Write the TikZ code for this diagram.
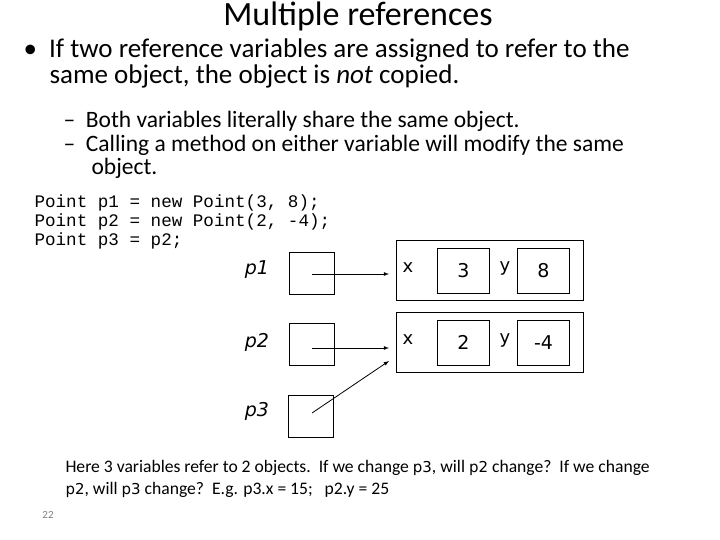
\documentclass[tikz,border=0pt]{standalone}
\usepackage{fontspec}
\setmainfont{Carlito}
\setmonofont{Liberation Mono}
\newfontfamily\vfont{DejaVu Sans}
\usetikzlibrary{positioning}
\tikzset{
  refbox/.style={draw,thick,minimum width=45pt,minimum height=42pt,inner sep=0pt},
  objbox/.style={draw,minimum width=187pt,minimum height=60pt,inner sep=0pt},
  fieldbox/.style={draw,thick,minimum width=52pt,minimum height=45pt,inner sep=0pt,font=\vfont\fontsize{19}{19}\selectfont},
  varlabel/.style={font=\vfont\itshape\fontsize{19}{19}\selectfont},
  fieldlabel/.style={font=\vfont\fontsize{18}{18}\selectfont},
  refarrow/.style={-latex,thick}
}
\begin{document}
\begin{tikzpicture}[x=1pt,y=-1pt]
  \useasboundingbox (0,0) rectangle (720,540);
  % title and bullets
  \node (title) at (358,16) {\fontsize{34}{34}\selectfont Multiple references};
  \node[anchor=west] (b1) at (20,50) {\fontsize{27}{27}\selectfont\textbullet\ \ If two reference variables are assigned to refer to the};
  \node[anchor=west] (b1b) at (46,76) {\fontsize{27}{27}\selectfont same object, the object is \textit{not} copied.};
  \node[anchor=west] (s1) at (60,121) {\fontsize{23.5}{23.5}\selectfont -- \ Both variables literally share the same object.};
  \node[anchor=west] (s2) at (60,145) {\fontsize{23.5}{23.5}\selectfont -- \ Calling a method on either variable will modify the same};
  \node[anchor=west] (s2b) at (88,168) {\fontsize{23.5}{23.5}\selectfont object.};
  % code
  \node[anchor=west,font=\ttfamily\fontsize{17.6}{17.6}\selectfont] (c1) at (31,203) {Point p1 = new Point(3, 8);};
  \node[anchor=west,font=\ttfamily\fontsize{17.6}{17.6}\selectfont] (c2) at (31,222) {Point p2 = new Point(2, -4);};
  \node[anchor=west,font=\ttfamily\fontsize{17.6}{17.6}\selectfont] (c3) at (31,241) {Point p3 = p2;};
  % variables
  \node[refbox] (p1) at (312,273) {};
  \node[refbox] (p2) at (312,344) {};
  \node[refbox] (p3) at (311,416) {};
  \node[varlabel] (l1) at (257,270) {p1};
  \node[varlabel] (l2) at (257,342) {p2};
  \node[varlabel] (l3) at (257,411) {p3};
  % objects
  \node[objbox] (o1) at (489.5,270) {};
  \node[objbox] (o2) at (489.5,342) {};
  \foreach \o/\a/\b/\y in {o1/3/8/0,o2/2/-4/72}{
    \node[fieldlabel] (\o x) at (408,268+\y) {x};
    \node[fieldbox] (\o a) at (463.5,270.5+\y) {\a};
    \node[fieldlabel] (\o y) at (505,268+\y) {y};
    \node[fieldbox] (\o b) at (543.5,270.5+\y) {\b};
  }
  % references
  \coordinate (s1) at (312,274);
  \coordinate (s2) at (312,348);
  \coordinate (s3) at (312,413);
  \coordinate (e1) at (389,274);
  \coordinate (e2) at (389,348);
  \coordinate (e3) at (389,361);
  \draw[refarrow] (s1) -- (e1);
  \draw[refarrow] (s2) -- (e2);
  \draw[refarrow] (s3) -- (e3);
  % footer
  \node[anchor=west,font=\fontsize{17.6}{17.6}\selectfont] (f1) at (62,468) {Here 3 variables refer to 2 objects.\ \ If we change {\vfont\fontsize{15}{15}\selectfont p3}, will {\vfont\fontsize{15}{15}\selectfont p2} change?\ \ If we change};
  \node[anchor=west,font=\fontsize{17.6}{17.6}\selectfont] (f2) at (62,490) {{\vfont\fontsize{15}{15}\selectfont p2}, will {\vfont\fontsize{15}{15}\selectfont p3} change?\ \ E.g. p3.x = 15;\ \ \ p2.y = 25};
  \node[text=gray,font=\fontsize{11}{11}\selectfont] (pg) at (48,515) {22};
\end{tikzpicture}
\end{document}
